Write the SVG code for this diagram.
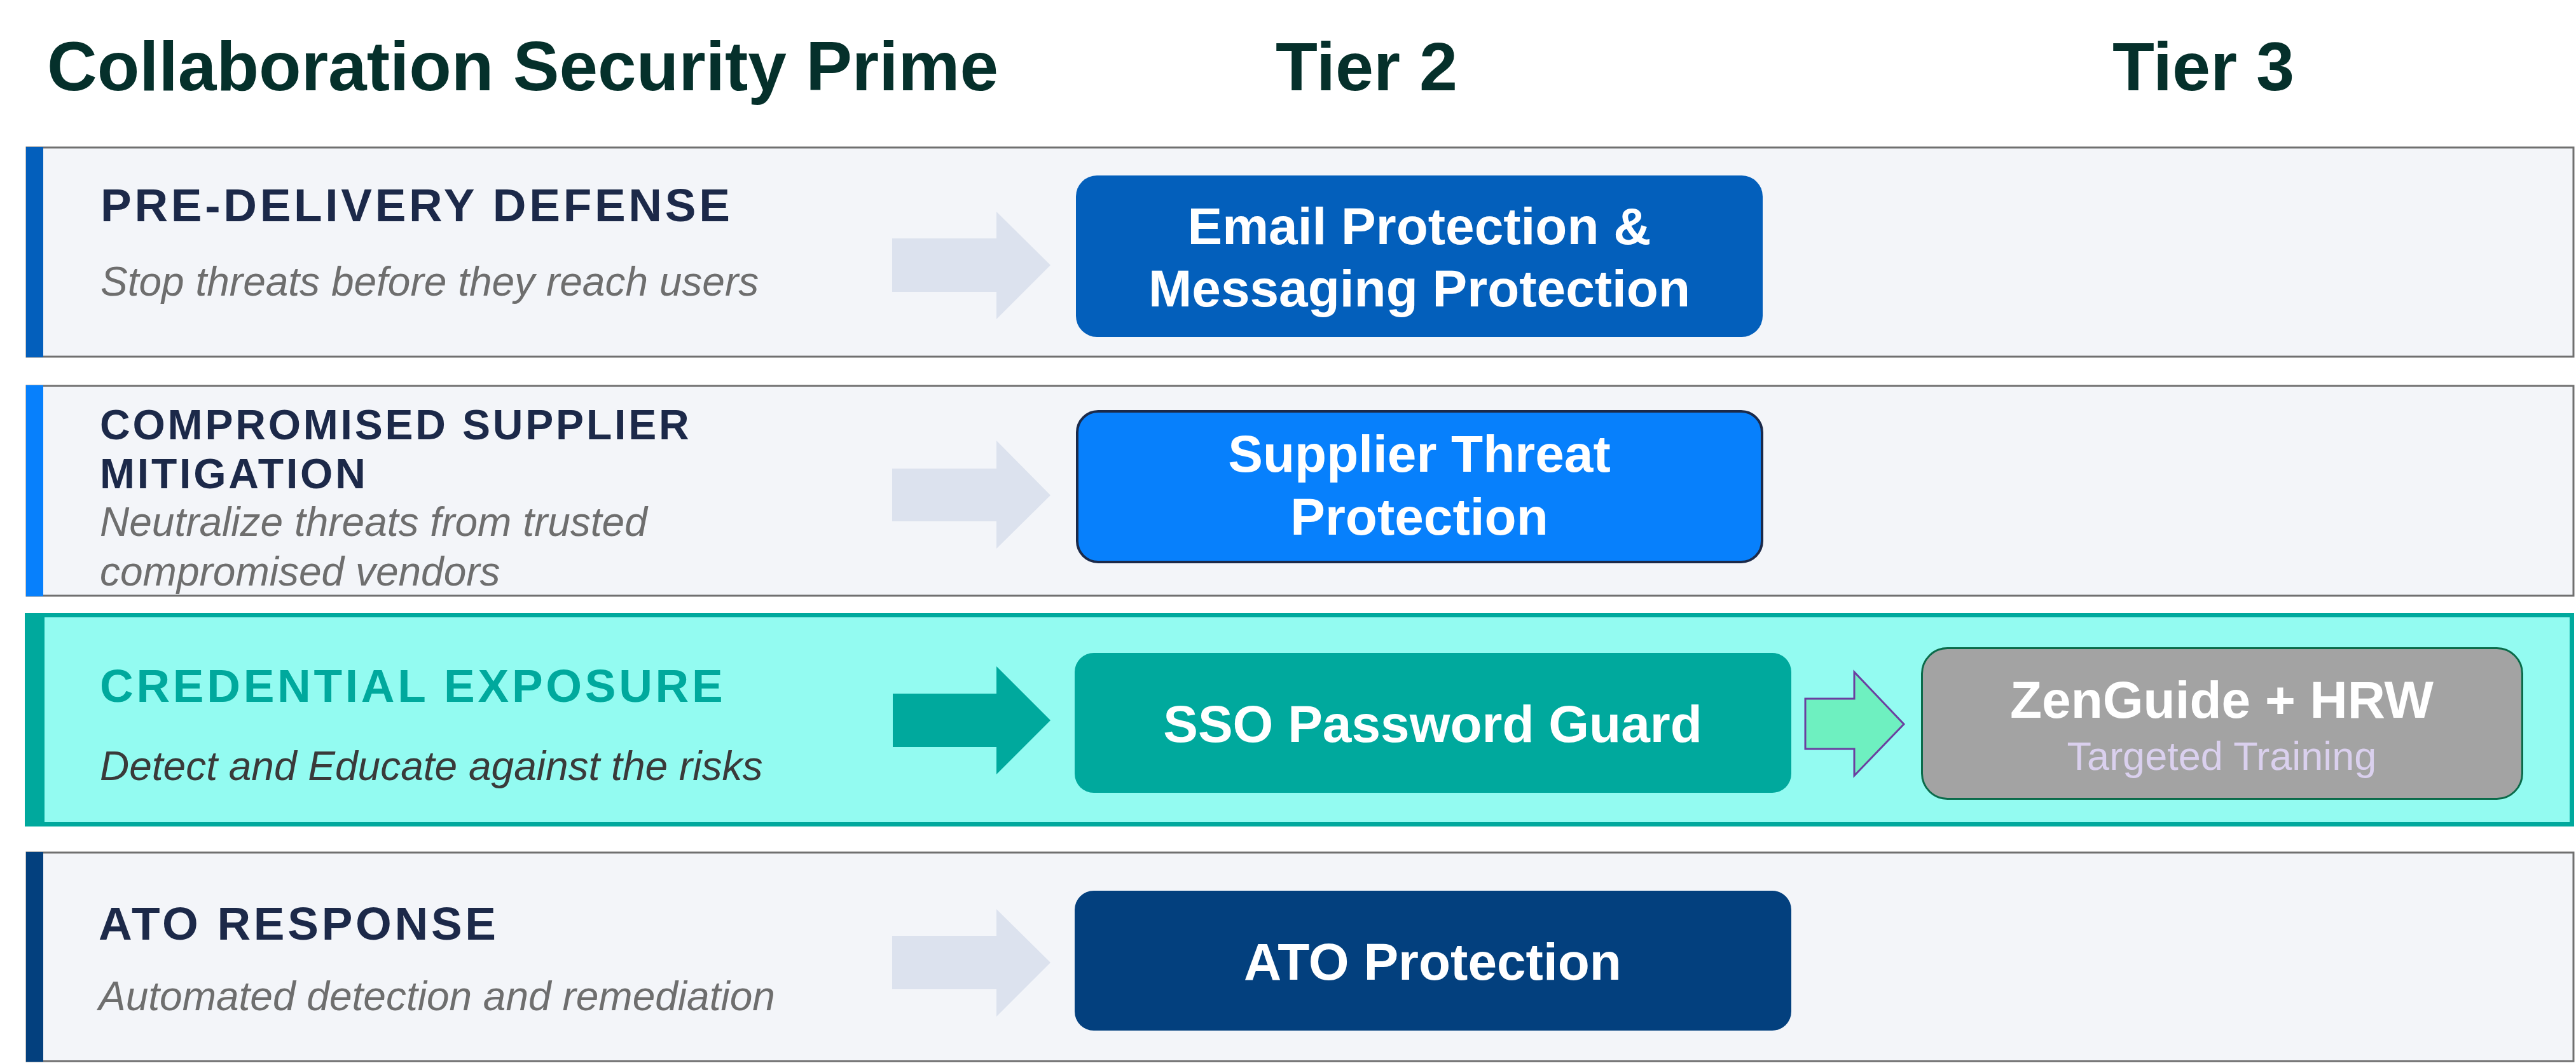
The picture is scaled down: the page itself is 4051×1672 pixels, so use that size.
<svg xmlns="http://www.w3.org/2000/svg" width="4051" height="1672" viewBox="0 0 4051 1672">
<style>
.title{font-family:"Liberation Sans",Arial,sans-serif;font-weight:bold;fill:#05302B}
.panel{fill:#F3F5F9;stroke:#707070;stroke-width:3}
.hdr{font-family:"Liberation Sans",Arial,sans-serif;font-weight:bold;fill:#1C2949;letter-spacing:4.7px}
.hdr2{font-family:"Liberation Sans",Arial,sans-serif;font-weight:bold;fill:#1C2949;letter-spacing:3.8px}
.sub{font-family:"Liberation Sans",Arial,sans-serif;font-style:italic;fill:#6E6E6E;font-size:64px}
.box-t{font-family:"Liberation Sans",Arial,sans-serif;font-weight:bold;fill:#FFFFFF;font-size:82px;text-anchor:middle}
.larrow{fill:#DCE2EE}
</style>
<rect width="4051" height="1672" fill="#FFFFFF"/>
<g id="headers">
<text class="title" x="74" y="142" font-size="109">Collaboration Security Prime</text>
<text class="title" x="2149" y="142" font-size="108" text-anchor="middle">Tier 2</text>
<text class="title" x="3465" y="142" font-size="108" text-anchor="middle">Tier 3</text>
</g>
<g id="panel-pre-delivery">
<rect class="panel" x="42" y="232" width="4005" height="329"/>
<rect x="41" y="231" width="27" height="331" fill="#035FBC"/>
<text class="hdr" x="158" y="348" font-size="73">PRE-DELIVERY DEFENSE</text>
<text class="sub" x="158" y="465">Stop threats before they reach users</text>
</g>
<g id="panel-supplier">
<rect class="panel" x="42" y="607" width="4005" height="330"/>
<rect x="41" y="606" width="27" height="332" fill="#0780FC"/>
<text class="hdr2" x="157" y="691" font-size="66">COMPROMISED SUPPLIER</text>
<text class="hdr2" x="157" y="768" font-size="66">MITIGATION</text>
<text class="sub" x="157" y="843">Neutralize threats from trusted</text>
<text class="sub" x="157" y="921">compromised vendors</text>
</g>
<g id="panel-credential">
<rect x="42.5" y="967.5" width="4002" height="329" fill="#93FBF1" stroke="#00A99D" stroke-width="7"/>
<rect x="39" y="964" width="31" height="336" fill="#00A99D"/>
<text class="hdr" x="157" y="1104" font-size="73" style="fill:#00A99D">CREDENTIAL EXPOSURE</text>
<text class="sub" x="157" y="1227" style="fill:#3A3A3A">Detect and Educate against the risks</text>
</g>
<g id="panel-ato">
<rect class="panel" x="42" y="1341" width="4005" height="328"/>
<rect x="41" y="1340" width="27" height="330" fill="#03407E"/>
<text class="hdr" x="155" y="1478" font-size="73">ATO RESPONSE</text>
<text class="sub" x="155" y="1589">Automated detection and remediation</text>
</g>
<g id="connectors">
<polygon class="larrow" points="1403,375 1567,375 1567,333 1652,417 1567,502 1567,459 1403,459"/>
<polygon class="larrow" points="1403,737 1567,737 1567,693 1652,779 1567,863 1567,820 1403,820"/>
<polygon fill="#00A99D" points="1404,1091 1567,1091 1567,1048 1652,1133 1567,1218 1567,1175 1404,1175"/>
<polygon fill="#6EF0C0" stroke="#6B3FA0" stroke-width="3" points="2839,1099 2916,1099 2916,1057 2994,1139 2916,1220 2916,1178 2839,1178"/>
<polygon class="larrow" points="1403,1472 1567,1472 1567,1430 1652,1514 1567,1599 1567,1556 1403,1556"/>
</g>
<g id="node-email">
<rect x="1692" y="276" width="1080" height="254" rx="33" fill="#035FBB"/>
<text class="box-t" x="2232" y="384">Email Protection &amp;</text>
<text class="box-t" x="2232" y="482">Messaging Protection</text>
</g>
<g id="node-supplier">
<rect x="1694" y="647" width="1077" height="237" rx="33" fill="#0780FC" stroke="#1B2A4A" stroke-width="4"/>
<text class="box-t" x="2232" y="742">Supplier Threat</text>
<text class="box-t" x="2232" y="841">Protection</text>
</g>
<g id="node-sso">
<rect x="1690" y="1027" width="1127" height="220" rx="30" fill="#00A99D"/>
<text class="box-t" x="2253" y="1167">SSO Password Guard</text>
</g>
<g id="node-zenguide">
<rect x="3022.5" y="1019.5" width="944" height="237" rx="40" fill="#A3A3A3" stroke="#0A6B4A" stroke-width="3"/>
<text class="box-t" x="3494" y="1129">ZenGuide + HRW</text>
<text x="3494" y="1211" font-family="Liberation Sans, Arial, sans-serif" font-size="63" fill="#DAD0EE" text-anchor="middle">Targeted Training</text>
</g>
<g id="node-ato">
<rect x="1690" y="1401" width="1127" height="220" rx="30" fill="#03407E"/>
<text class="box-t" x="2253" y="1541">ATO Protection</text>
</g>
</svg>
